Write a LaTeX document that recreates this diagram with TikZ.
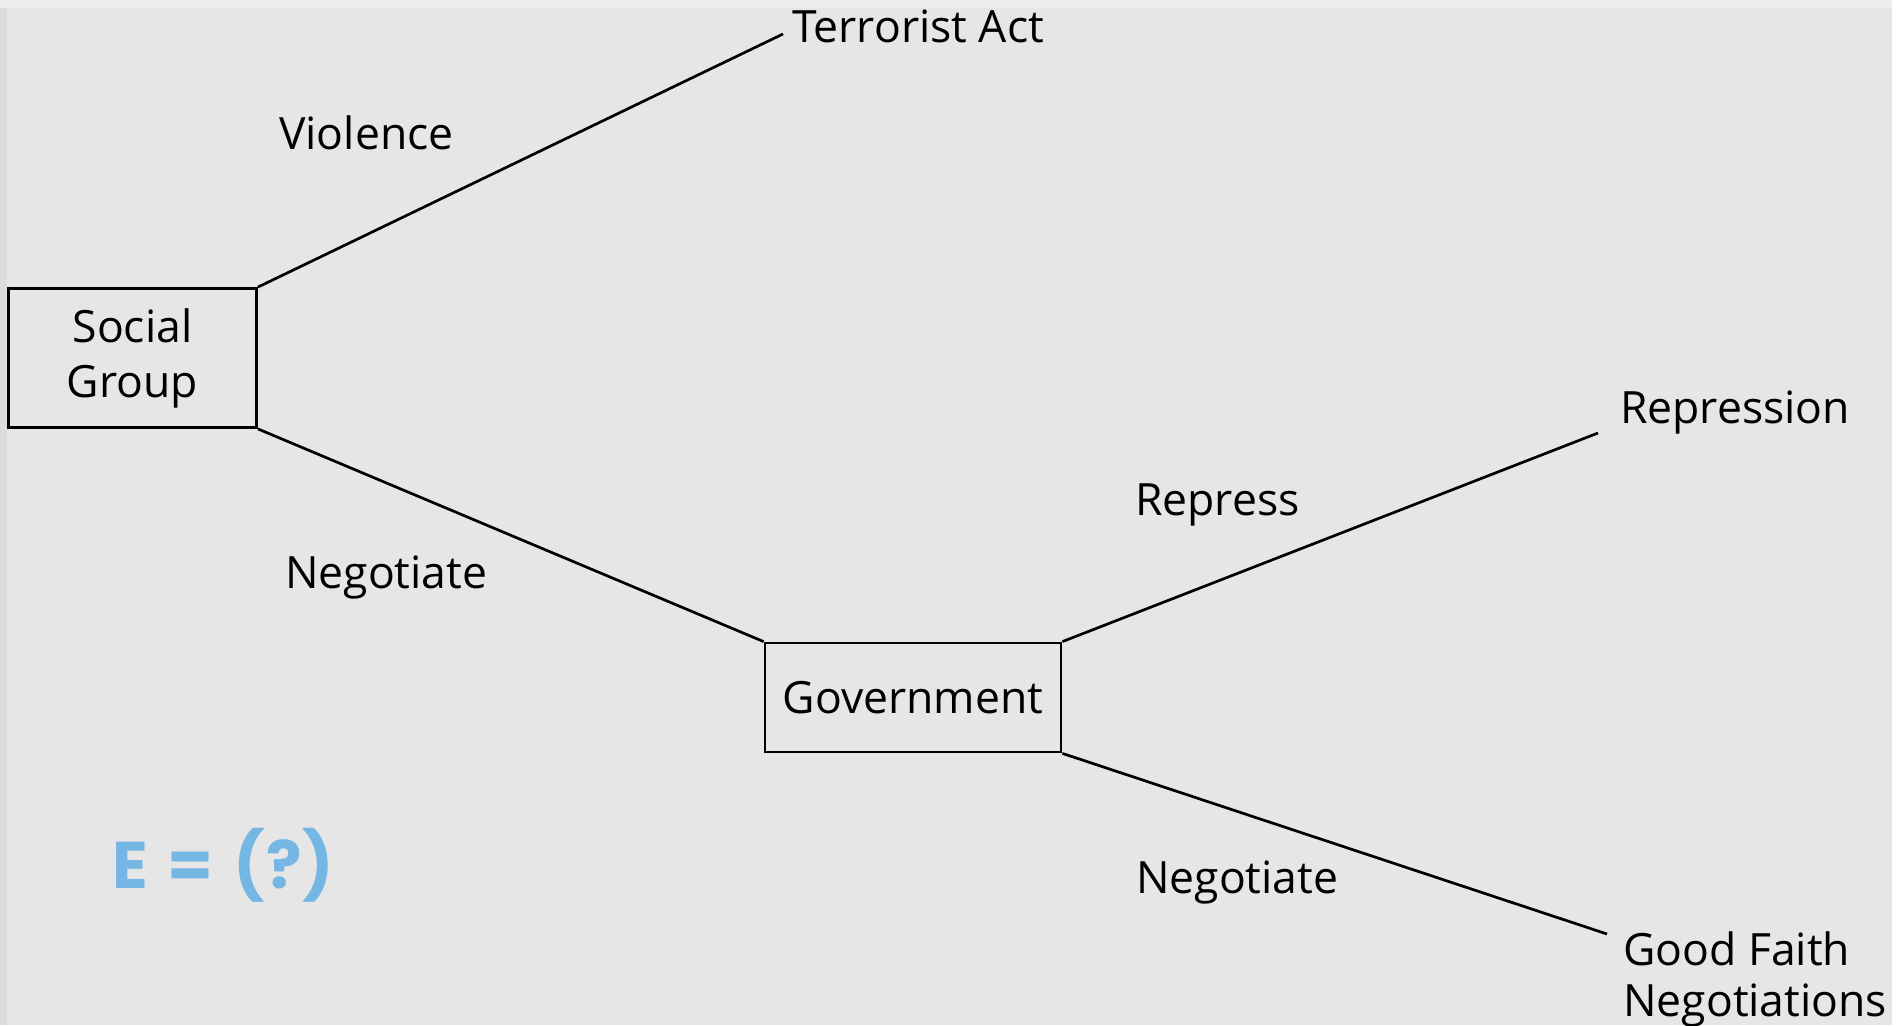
\documentclass[tikz,border=0pt]{standalone}
\usepackage{fontspec}
\setmainfont{Open Sans}
\newfontfamily\eqfont{Poppins}
\definecolor{paper}{RGB}{230,230,230}
\definecolor{topstrip}{RGB}{238,238,238}
\definecolor{leftstrip}{RGB}{220,220,220}
\definecolor{eqblue}{RGB}{116,182,228}
\begin{document}
\begin{tikzpicture}[x=1pt,y=-1pt,
  player/.style={draw=black, line width=2.8pt, fill=paper, inner sep=0pt,
    align=center, font=\fontsize{44.5}{55}\selectfont},
  branch/.style={draw=black, line width=2.7pt},
  label/.style={anchor=base west, inner sep=0pt, font=\fontsize{44.5}{55}\selectfont},
  outcome/.style={anchor=base west, inner sep=0pt, align=left, font=\fontsize{44.5}{51}\selectfont}]
  % page and background
  \useasboundingbox (0,0) rectangle (1897,1025);
  \fill[white] (0,0) rectangle (1897,1025);
  \fill[paper] (0,0) rectangle (1892,1025);
  \fill[leftstrip] (0,0) rectangle (7,1025);
  \fill[topstrip] (0,0) rectangle (1892,8);

  % decision nodes
  \node[player, minimum width=248pt, minimum height=139pt] (sg) at (132.5,358) {Social\\Group};
  \node[player, minimum width=296pt, minimum height=109pt] (gov) at (913,697.5) {Government};

  % outcomes
  \node[outcome] (ta) at (792,43) {Terrorist Act};
  \node[outcome] (rep) at (1620,423) {Repression};
  \node[outcome] (gf) at (1623,1016) {Good Faith\\Negotiations};
  \coordinate (taend) at (783,34);
  \coordinate (repend) at (1598,433);
  \coordinate (gfend) at (1607,934);

  % branches
  \draw[branch] (sg.north east) -- (taend);
  \draw[branch] (sg.south east) -- (gov.north west);
  \draw[branch] (gov.north east) -- (repend);
  \draw[branch] (gov.south east) -- (gfend);

  % branch labels
  \node[label] (lv) at (279,149) {Violence};
  \node[label] (ln1) at (285,588) {Negotiate};
  \node[label] (lr) at (1135,515) {Repress};
  \node[label] (ln2) at (1136,893) {Negotiate};

  % equation
  \node[anchor=base west, inner sep=0pt, text=eqblue, font=\eqfont\bfseries\fontsize{66}{70}\selectfont] (eq) at (112,888) {E\hspace{20pt}=\hspace{20pt}(\hspace{1pt}?\hspace{1pt})};
\end{tikzpicture}
\end{document}
